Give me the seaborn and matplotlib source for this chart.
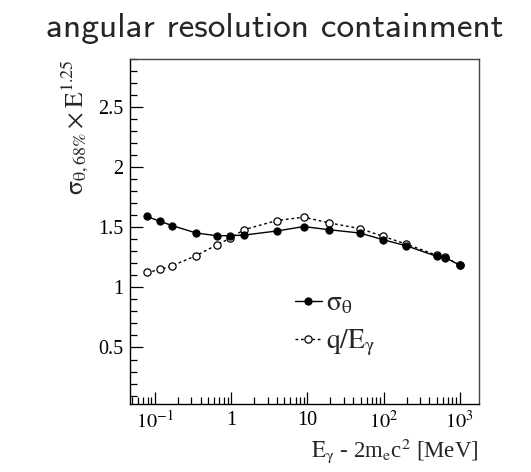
import matplotlib
matplotlib.use("Agg")
import matplotlib.pyplot as plt
import seaborn as sns
import pandas as pd
import numpy as np
from matplotlib.ticker import FixedLocator, FixedFormatter, LogLocator, NullFormatter, MultipleLocator

# data
energy = [0.078, 0.118, 0.168, 0.348, 0.648, 0.978, 1.478, 3.978, 8.978,
          18.98, 48.98, 98.98, 199.0, 499.0, 649.0, 999.0]
sigma_theta = [1.59, 1.548, 1.514, 1.452, 1.43, 1.43, 1.435, 1.469, 1.506,
               1.48, 1.452, 1.396, 1.346, 1.258, 1.247, 1.185]
q_over_e = [1.124, 1.149, 1.18, 1.264, 1.354, 1.41, 1.48, 1.556, 1.584,
            1.537, 1.489, 1.424, 1.36, 1.267, 1.25, 1.185]
xtick_vals = [0.1, 1, 10, 100, 1000]
xtick_labels = [r'$10^{-1}$', '1', '10', r'$10^{2}$', r'$10^{3}$']
ytick_vals = [0.5, 1, 1.5, 2, 2.5]
ytick_labels = ['0.5', '1', '1.5', '2', '2.5']

sns.set_theme(style="white")
plt.rcParams['font.family'] = ['Liberation Serif', 'DejaVu Serif']
plt.rcParams['mathtext.fontset'] = 'stix'

fig = plt.figure(figsize=(5.31, 4.72), dpi=100)
ax = fig.add_axes([0.2448, 0.1441, 0.657, 0.731])

df1 = pd.DataFrame({'E': energy, 'v': sigma_theta})
df2 = pd.DataFrame({'E': energy, 'v': q_over_e})

sns.lineplot(data=df2, x='E', y='v', ax=ax, color='black', linestyle=(0, (2, 2)),
             linewidth=1.0, marker='o', markersize=5.2, markerfacecolor='white',
             markeredgecolor='black', markeredgewidth=0.9, label=r'$\mathrm{q/E_{γ}}$')
sns.lineplot(data=df1, x='E', y='v', ax=ax, color='black', linestyle='-',
             linewidth=1.0, marker='o', markersize=5.2, markerfacecolor='black',
             markeredgecolor='black', label=r'$\mathrm{σ_{θ}}$')

ax.set_xscale('log')
ax.set_xlim(0.047, 1780)
ax.set_ylim(0.03, 2.9)

ax.xaxis.set_major_locator(FixedLocator(xtick_vals))
ax.xaxis.set_major_formatter(FixedFormatter(xtick_labels))
ax.xaxis.set_minor_locator(LogLocator(base=10, subs=np.arange(2, 10), numticks=20))
ax.xaxis.set_minor_formatter(NullFormatter())
ax.yaxis.set_major_locator(FixedLocator(ytick_vals))
ax.yaxis.set_major_formatter(FixedFormatter(ytick_labels))
ax.yaxis.set_minor_locator(MultipleLocator(0.1))

ax.tick_params(axis='both', which='both', direction='in', top=False, right=False,
               bottom=True, left=True, colors='black', labelsize=14.5)
ax.tick_params(axis='both', which='major', length=9, width=0.9, pad=5)
ax.tick_params(axis='both', which='minor', length=5, width=0.9)

for s in ['left', 'bottom']:
    ax.spines[s].set_color('black')
    ax.spines[s].set_linewidth(1.0)
for s in ['top', 'right']:
    ax.spines[s].set_color('#444444')
    ax.spines[s].set_linewidth(1.0)

ax.set_xlabel(r'$\mathrm{E_{γ}}$ - 2m$_{\mathrm{e}}$c$^{2}$ [MeV]', fontsize=16.5,
              loc='right', labelpad=2)
ax.set_ylabel(r'$\mathrm{σ_{θ,68\%}}\times\mathrm{E}^{1.25}$', fontsize=18.5,
              loc='top', labelpad=5)

handles, labels = ax.get_legend_handles_labels()
leg = ax.legend(handles[::-1], labels[::-1], loc='center left',
                bbox_to_anchor=(0.4, 0.23), frameon=False, fontsize=20,
                handlelength=1.0, handletextpad=0.15, labelspacing=0.4)

fig.text(0.518, 0.94, 'angular resolution containment', family=['cmss10', 'DejaVu Sans'],
         fontsize=25.5, ha='center', va='center')

fig.savefig('out.png', dpi=100)
